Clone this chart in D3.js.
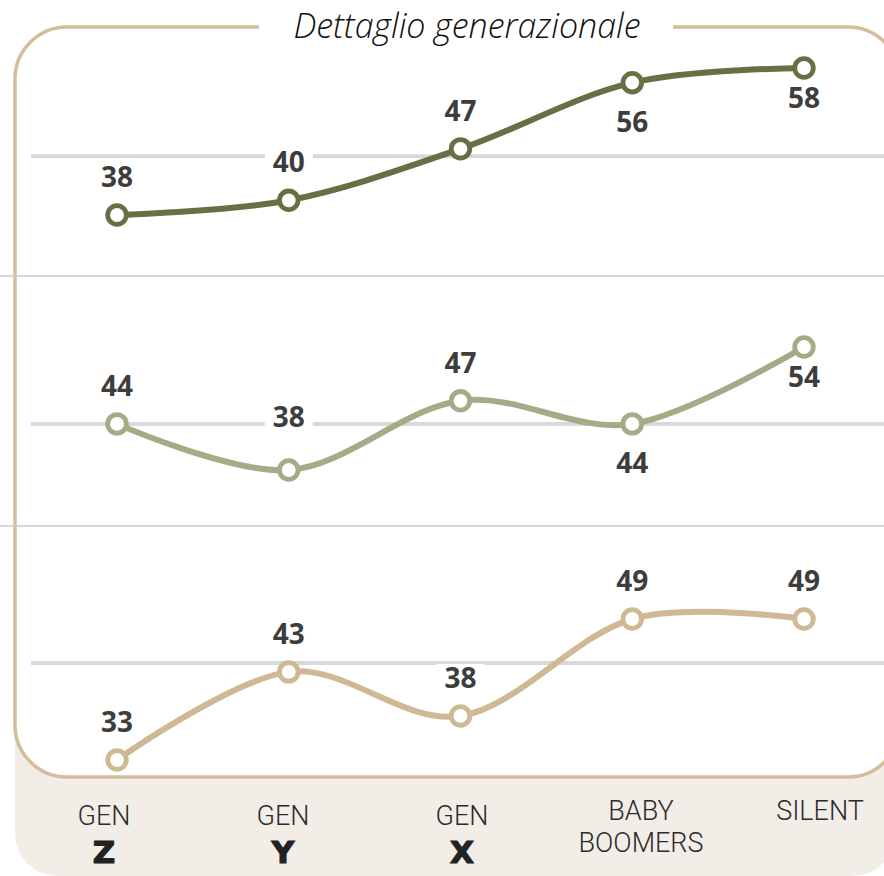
<!DOCTYPE html>
<html>
<head>
<meta charset="utf-8">
<script src="https://cdn.jsdelivr.net/npm/d3@7"></script>
<style>
  html, body { margin: 0; padding: 0; background: #ffffff; }
  svg { display: block; }
</style>
</head>
<body>
<svg id="chart" width="884" height="876"></svg>
<script>
// Generations on the x axis (two text lines each)
const categories = ["Gen Z", "Gen Y", "Gen X", "Baby Boomers", "Silent"];
const catLine1 = ["GEN", "GEN", "GEN", "BABY", "SILENT"];
const catLine2 = ["Z", "Y", "X", "BOOMERS", ""];

// One series per panel, top to bottom
const seriesTop = [38, 40, 47, 56, 58];
const seriesMid = [44, 38, 47, 44, 54];
const seriesBottom = [33, 43, 38, 49, 49];

// Reference gridline value in each panel
const gridValues = [46, 44, 44];

// Where each value label sits relative to its marker
const labelSideTop = ["up", "up", "up", "down", "down2"];
const labelSideMid = ["up", "up2", "up", "down", "down2"];
const labelSideBottom = ["up", "up", "up", "up", "up"];

const titleText = "Dettaglio generazionale";

const W = 884, H = 876;
const svg = d3.select("#chart");

const colors = ["#676f45", "#a4ab86", "#cfb894"];
const panels = [
  { values: seriesTop, sides: labelSideTop, range: [215, 68], grid: gridValues[0] },
  { values: seriesMid, sides: labelSideMid, range: [470, 347], grid: gridValues[1] },
  { values: seriesBottom, sides: labelSideBottom, range: [760, 619], grid: gridValues[2] }
];
const separators = [276, 526];

const x = d3.scalePoint().domain(categories).range([117, 804]);
const xLab = d3.scalePoint().domain(categories).range([104, 820]);

// Beige footer band under the frame
svg.append("rect")
  .attr("x", 15).attr("y", 690).attr("width", 880).attr("height", 186)
  .attr("rx", 42).attr("ry", 42)
  .attr("fill", "#f2eee7");

// Rounded frame
svg.append("rect")
  .attr("x", 15).attr("y", 27).attr("width", 885).attr("height", 750)
  .attr("rx", 52).attr("ry", 52)
  .attr("fill", "#ffffff")
  .attr("stroke", "#d3bd9b").attr("stroke-width", 3.5);

// Gap in the top border for the title
svg.append("rect")
  .attr("x", 259).attr("y", 20).attr("width", 414).attr("height", 14)
  .attr("fill", "#ffffff");

svg.append("text")
  .attr("x", 467).attr("y", 38)
  .attr("text-anchor", "middle")
  .attr("font-family", "'Open Sans', 'Noto Sans', sans-serif")
  .attr("font-style", "italic").attr("font-weight", 300)
  .attr("font-size", 34).attr("fill", "#111111")
  .text(titleText);

// Thin panel separators
svg.selectAll("line.sep").data(separators).join("line")
  .attr("class", "sep")
  .attr("x1", 0).attr("x2", W)
  .attr("y1", d => d).attr("y2", d => d)
  .attr("stroke", "#cbcbcb").attr("stroke-width", 1.5);

const labelOffset = { up: -38, up2: -53, down: 39, down2: 30 };
const labelFont = "'Open Sans', 'Noto Sans', sans-serif";

panels.forEach((p, i) => {
  const y = d3.scaleLinear().domain(d3.extent(p.values)).range(p.range);
  const g = svg.append("g");

  // Reference gridline
  g.append("line")
    .attr("x1", 31).attr("x2", W)
    .attr("y1", y(p.grid)).attr("y2", y(p.grid))
    .attr("stroke", "#d9d9d9").attr("stroke-width", 4);

  const pts = p.values.map((v, j) => ({ cat: categories[j], v, side: p.sides[j] }));

  // Value labels with white backing
  const lab = g.selectAll("g.lab").data(pts).join("g").attr("class", "lab")
    .attr("transform", d => `translate(${x(d.cat)},${y(d.v) + labelOffset[d.side]})`);
  lab.append("rect")
    .attr("x", -24).attr("y", -14).attr("width", 48).attr("height", 28)
    .attr("fill", "#ffffff");
  lab.append("text")
    .attr("text-anchor", "middle").attr("dy", "0.36em")
    .attr("font-family", labelFont).attr("font-weight", 700)
    .attr("font-size", 28).attr("fill", "#3d3d3d")
    .text(d => d.v);

  // Smoothed line
  const line = d3.line()
    .x(d => x(d.cat)).y(d => y(d.v))
    .curve(d3.curveCardinal.tension(0));
  g.append("path").datum(pts)
    .attr("d", line)
    .attr("fill", "none")
    .attr("stroke", colors[i]).attr("stroke-width", 6)
    .attr("stroke-linecap", "round");

  // Hollow markers
  g.selectAll("circle").data(pts).join("circle")
    .attr("cx", d => x(d.cat)).attr("cy", d => y(d.v))
    .attr("r", 9.3)
    .attr("fill", "#ffffff")
    .attr("stroke", colors[i]).attr("stroke-width", 4.8);
});

// Category labels
const cats = svg.append("g").selectAll("g").data(categories).join("g")
  .attr("transform", d => `translate(${xLab(d)},0)`);
cats.each(function(d, i) {
  const gg = d3.select(this);
  const heavy = catLine2[i].length === 1;
  gg.append("text")
    .attr("text-anchor", "middle")
    .attr("y", heavy ? 825 : 820)
    .attr("font-family", "Roboto, 'Liberation Sans', sans-serif")
    .attr("font-weight", 300).attr("font-size", 27).attr("fill", "#2b2b2b")
    .text(catLine1[i]);
  if (catLine2[i]) {
    gg.append("text")
      .attr("text-anchor", "middle")
      .attr("y", heavy ? 863 : 852)
      .attr("font-family", heavy ? "'DejaVu Sans', sans-serif" : "Roboto, 'Liberation Sans', sans-serif")
      .attr("font-weight", heavy ? 700 : 300)
      .attr("font-size", heavy ? 31 : 27)
      .attr("fill", heavy ? "#222222" : "#2b2b2b")
      .attr("stroke", heavy ? "#222222" : "none")
      .attr("stroke-width", heavy ? 1.2 : 0)
      .text(catLine2[i]);
  }
});
</script>
</body>
</html>
